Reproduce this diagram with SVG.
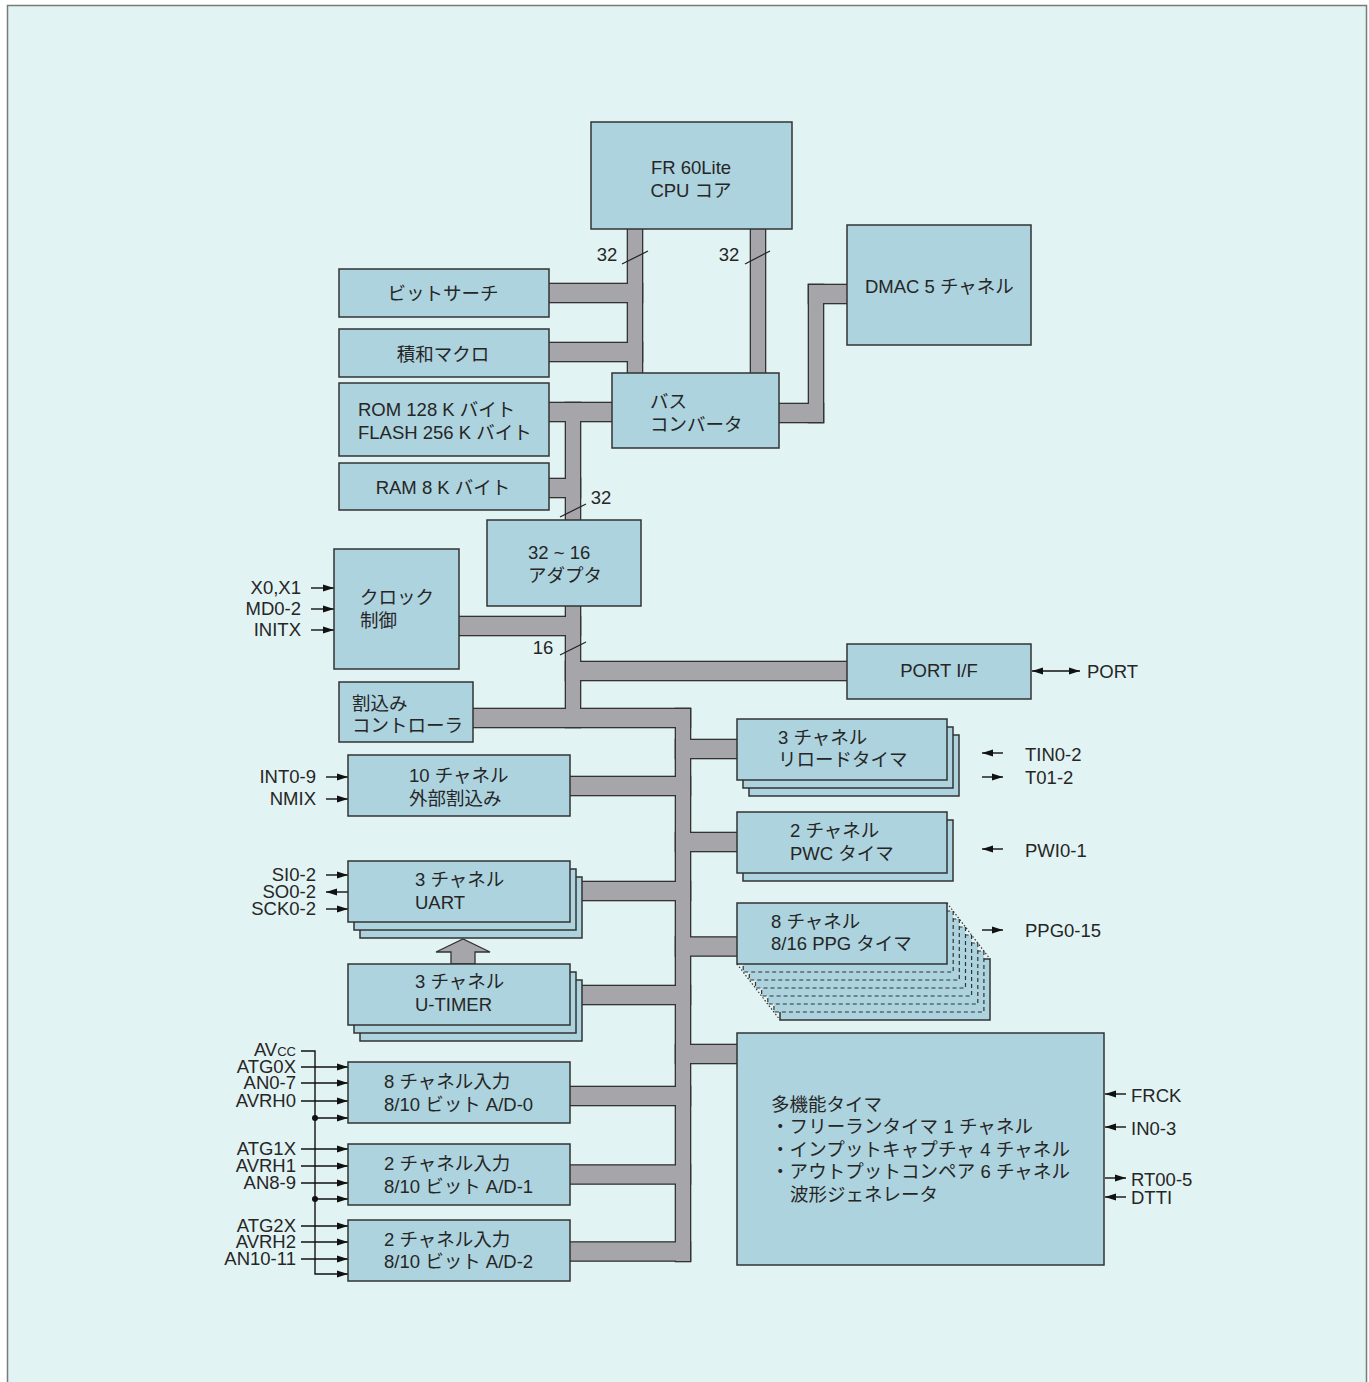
<svg xmlns="http://www.w3.org/2000/svg" xmlns:xlink="http://www.w3.org/1999/xlink" width="1369" height="1382" viewBox="0 0 1369 1382">
<style>
.bg{fill:#e2f3f3;stroke:#7a7a7a;stroke-width:1.5}
.box{fill:#add3de;stroke:#333;stroke-width:1.5}
.dash{fill:#add3de;stroke:#333;stroke-width:1.2;stroke-dasharray:4 3}
.dot{fill:none;stroke:#333;stroke-width:1.2;stroke-dasharray:1.5 2}
text{font-family:"Liberation Sans","Noto Sans CJK JP",sans-serif;font-size:18.5px;fill:#262626}
.m{text-anchor:middle}
.r{text-anchor:end}
.ln{fill:none;stroke:#111;stroke-width:1.4}
.sl{fill:none;stroke:#222;stroke-width:1.2}
.ar{marker-end:url(#ah)}
</style>
<defs>
<marker id="ah" markerUnits="userSpaceOnUse" markerWidth="12" markerHeight="8" refX="11" refY="4" orient="auto-start-reverse">
<path d="M0,0.5 L11,4 L0,7.5 z" fill="#111"/>
</marker>
<g id="busShape">
<rect x="628" y="225" width="14" height="152"/>
<rect x="751" y="225" width="14" height="152"/>
<rect x="545" y="284" width="97" height="18"/>
<rect x="545" y="343" width="97" height="18"/>
<rect x="545" y="403" width="71" height="18"/>
<rect x="566" y="403" width="14" height="121"/>
<rect x="545" y="479" width="35" height="18"/>
<rect x="775" y="404" width="48" height="18"/>
<rect x="809" y="285" width="14" height="137"/>
<rect x="809" y="285" width="42" height="18"/>
<rect x="566" y="602" width="14" height="125"/>
<rect x="455" y="617" width="125" height="18"/>
<rect x="566" y="662" width="285" height="18"/>
<rect x="469" y="709" width="221" height="18"/>
<rect x="676" y="709" width="14" height="552"/>
<rect x="676" y="740" width="65" height="18"/>
<rect x="566" y="777" width="124" height="18"/>
<rect x="676" y="833" width="65" height="18"/>
<rect x="578" y="882" width="112" height="18"/>
<rect x="676" y="937.5" width="65" height="18"/>
<rect x="578" y="986" width="112" height="18"/>
<rect x="676" y="1045" width="65" height="18"/>
<rect x="566" y="1087" width="124" height="18"/>
<rect x="566" y="1165.5" width="124" height="18"/>
<rect x="566" y="1242.5" width="124" height="18"/>
</g>
</defs>
<rect class="bg" x="7.5" y="5.5" width="1359" height="1395"/>
<g id="connectors">
<use xlink:href="#busShape" fill="#a6a6aa" stroke="#333" stroke-width="2.6"/>
<use xlink:href="#busShape" fill="#a6a6aa"/>
<polygon points="451,964 451,952 436,952 463,939 490,952 475,952 475,964" fill="#a6a6aa" stroke="#333" stroke-width="1.3"/>
<line class="sl" x1="622" y1="264" x2="648" y2="251"/>
<line class="sl" x1="745" y1="264" x2="770" y2="251"/>
<line class="sl" x1="560" y1="517" x2="586" y2="504"/>
<line class="sl" x1="560" y1="655" x2="586" y2="642"/>
<line class="ln ar" x1="311" y1="588" x2="334" y2="588"/>
<line class="ln ar" x1="311" y1="609" x2="334" y2="609"/>
<line class="ln ar" x1="311" y1="630" x2="334" y2="630"/>
<line class="ln ar" x1="326" y1="777" x2="348" y2="777"/>
<line class="ln ar" x1="326" y1="799" x2="348" y2="799"/>
<line class="ln ar" x1="326" y1="875" x2="348" y2="875"/>
<line class="ln ar" x1="348" y1="892" x2="326" y2="892"/>
<line class="ln ar" x1="326" y1="909" x2="348" y2="909"/>
<line class="ln ar" x1="1003" y1="753" x2="982" y2="753"/>
<line class="ln ar" x1="982" y1="777" x2="1003" y2="777"/>
<line class="ln ar" x1="1003" y1="849" x2="982" y2="849"/>
<line class="ln ar" x1="982" y1="930" x2="1003" y2="930"/>
<line class="ln ar" x1="1032" y1="671" x2="1080" y2="671" style="marker-start:url(#ah)"/>
<line class="ln ar" x1="1126" y1="1094" x2="1105" y2="1094"/>
<line class="ln ar" x1="1126" y1="1127" x2="1105" y2="1127"/>
<line class="ln ar" x1="1105" y1="1178" x2="1126" y2="1178"/>
<line class="ln ar" x1="1126" y1="1197" x2="1105" y2="1197"/>
<path class="ln ar" d="M301,1051 H315 V1274 H348"/>
<line class="ln ar" x1="301" y1="1067" x2="348" y2="1067"/>
<line class="ln ar" x1="301" y1="1083" x2="348" y2="1083"/>
<line class="ln ar" x1="301" y1="1101" x2="348" y2="1101"/>
<line class="ln ar" x1="315" y1="1118" x2="348" y2="1118"/>
<line class="ln ar" x1="301" y1="1149" x2="348" y2="1149"/>
<line class="ln ar" x1="301" y1="1166" x2="348" y2="1166"/>
<line class="ln ar" x1="301" y1="1183" x2="348" y2="1183"/>
<line class="ln ar" x1="315" y1="1199" x2="348" y2="1199"/>
<line class="ln ar" x1="301" y1="1226" x2="348" y2="1226"/>
<line class="ln ar" x1="301" y1="1242" x2="348" y2="1242"/>
<line class="ln ar" x1="301" y1="1259" x2="348" y2="1259"/>
<circle cx="315" cy="1118" r="3" fill="#111"/>
<circle cx="315" cy="1199" r="3" fill="#111"/>
</g>
<g id="bus-labels">
<text class="m" x="607" y="261">32</text>
<text class="m" x="729" y="261">32</text>
<text class="m" x="601" y="504">32</text>
<text class="m" x="543" y="654">16</text>
</g>
<g id="cpu"><rect class="box" x="591" y="122" width="201" height="107"/>
<text class="m" x="691" y="174">FR 60Lite</text><text class="m" x="691" y="197">CPU コア</text></g>
<g id="dmac"><rect class="box" x="847" y="225" width="184" height="120"/>
<text x="865" y="293">DMAC 5 チャネル</text></g>
<g id="bitsearch"><rect class="box" x="339" y="269" width="210" height="48"/>
<text class="m" x="443" y="300">ビットサーチ</text></g>
<g id="mac"><rect class="box" x="339" y="329" width="210" height="48"/>
<text class="m" x="443" y="361">積和マクロ</text></g>
<g id="rom"><rect class="box" x="339" y="383" width="210" height="73"/>
<text x="358" y="416">ROM 128 K バイト</text><text x="358" y="439">FLASH 256 K バイト</text></g>
<g id="ram"><rect class="box" x="339" y="463" width="210" height="47"/>
<text class="m" x="443" y="494">RAM 8 K バイト</text></g>
<g id="busconv"><rect class="box" x="612" y="373" width="167" height="75"/>
<text x="650" y="408">バス</text><text x="650" y="431">コンバータ</text></g>
<g id="adapter"><rect class="box" x="487" y="520" width="154" height="86"/>
<text x="528" y="559">32 ~ 16</text><text x="528" y="582">アダプタ</text></g>
<g id="clock"><rect class="box" x="334" y="549" width="125" height="120"/>
<text x="360" y="604">クロック</text><text x="360" y="627">制御</text>
<text class="r" x="301" y="594">X0,X1</text><text class="r" x="301" y="615">MD0-2</text><text class="r" x="301" y="636">INITX</text></g>
<g id="intc"><rect class="box" x="339" y="682" width="134" height="60"/>
<text x="352" y="710">割込み</text><text x="352" y="732">コントローラ</text></g>
<g id="extint"><rect class="box" x="348" y="755" width="222" height="61"/>
<text x="409" y="782">10 チャネル</text><text x="409" y="805">外部割込み</text>
<text class="r" x="316" y="783">INT0-9</text><text class="r" x="316" y="805">NMIX</text></g>
<g id="portif"><rect class="box" x="847" y="644" width="184" height="55"/>
<text class="m" x="939" y="677">PORT I/F</text><text x="1087" y="678">PORT</text></g>
<g id="reload"><rect class="box" x="749" y="735" width="210" height="61"/><rect class="box" x="743" y="727" width="210" height="61"/><rect class="box" x="737" y="719" width="210" height="61"/>
<text x="778" y="744">3 チャネル</text><text x="778" y="766">リロードタイマ</text>
<text x="1025" y="761">TIN0-2</text><text x="1025" y="784">T01-2</text></g>
<g id="pwc"><rect class="box" x="743" y="820" width="210" height="61"/><rect class="box" x="737" y="812" width="210" height="61"/>
<text x="790" y="837">2 チャネル</text><text x="790" y="860">PWC タイマ</text>
<text x="1025" y="857">PWI0-1</text></g>
<g id="ppg">
<rect class="box" x="780" y="959" width="210" height="61"/>
<rect class="dash" x="773.9" y="951" width="210" height="61"/>
<rect class="dash" x="767.8" y="943" width="210" height="61"/>
<rect class="dash" x="761.6" y="935" width="210" height="61"/>
<rect class="dash" x="755.5" y="927" width="210" height="61"/>
<rect class="dash" x="749.3" y="919" width="210" height="61"/>
<rect class="dash" x="743.2" y="911" width="210" height="61"/>
<line class="dot" x1="947" y1="903" x2="990" y2="959"/>
<line class="dot" x1="737" y1="964" x2="780" y2="1020"/>
<rect class="box" x="737" y="903" width="210" height="61"/>
<text x="771" y="928">8 チャネル</text><text x="771" y="950">8/16 PPG タイマ</text>
<text x="1025" y="937">PPG0-15</text></g>
<g id="uart"><rect class="box" x="360" y="877" width="222" height="61"/><rect class="box" x="354" y="869" width="222" height="61"/><rect class="box" x="348" y="861" width="222" height="61"/>
<text x="415" y="886">3 チャネル</text><text x="415" y="909">UART</text>
<text class="r" x="316" y="881">SI0-2</text><text class="r" x="316" y="898">SO0-2</text><text class="r" x="316" y="915">SCK0-2</text></g>
<g id="utimer"><rect class="box" x="360" y="980" width="222" height="61"/><rect class="box" x="354" y="972" width="222" height="61"/><rect class="box" x="348" y="964" width="222" height="61"/>
<text x="415" y="988">3 チャネル</text><text x="415" y="1011">U-TIMER</text></g>
<g id="ad0"><rect class="box" x="348" y="1062" width="222" height="61"/>
<text x="384" y="1088">8 チャネル入力</text><text x="384" y="1111">8/10 ビット A/D-0</text></g>
<g id="ad1"><rect class="box" x="348" y="1144" width="222" height="61"/>
<text x="384" y="1170">2 チャネル入力</text><text x="384" y="1193">8/10 ビット A/D-1</text></g>
<g id="ad2"><rect class="box" x="348" y="1220" width="222" height="61"/>
<text x="384" y="1246">2 チャネル入力</text><text x="384" y="1268">8/10 ビット A/D-2</text></g>
<g id="ad-labels">
<text class="r" x="296" y="1056">AV<tspan font-size="13">CC</tspan></text>
<text class="r" x="296" y="1073">ATG0X</text><text class="r" x="296" y="1089">AN0-7</text><text class="r" x="296" y="1107">AVRH0</text>
<text class="r" x="296" y="1155">ATG1X</text><text class="r" x="296" y="1172">AVRH1</text><text class="r" x="296" y="1189">AN8-9</text>
<text class="r" x="296" y="1232">ATG2X</text><text class="r" x="296" y="1248">AVRH2</text><text class="r" x="296" y="1265">AN10-11</text></g>
<g id="multitimer"><rect class="box" x="737" y="1033" width="367" height="232"/>
<text x="771" y="1111">多機能タイマ</text>
<text x="771" y="1133" textLength="262" lengthAdjust="spacing">・フリーランタイマ 1 チャネル</text>
<text x="771" y="1156" textLength="299" lengthAdjust="spacing">・インプットキャプチャ 4 チャネル</text>
<text x="771" y="1178" textLength="299" lengthAdjust="spacing">・アウトプットコンペア 6 チャネル</text>
<text x="790" y="1201">波形ジェネレータ</text>
<text x="1131" y="1102">FRCK</text><text x="1131" y="1135">IN0-3</text><text x="1131" y="1186">RT00-5</text><text x="1131" y="1204">DTTI</text></g>
</svg>
